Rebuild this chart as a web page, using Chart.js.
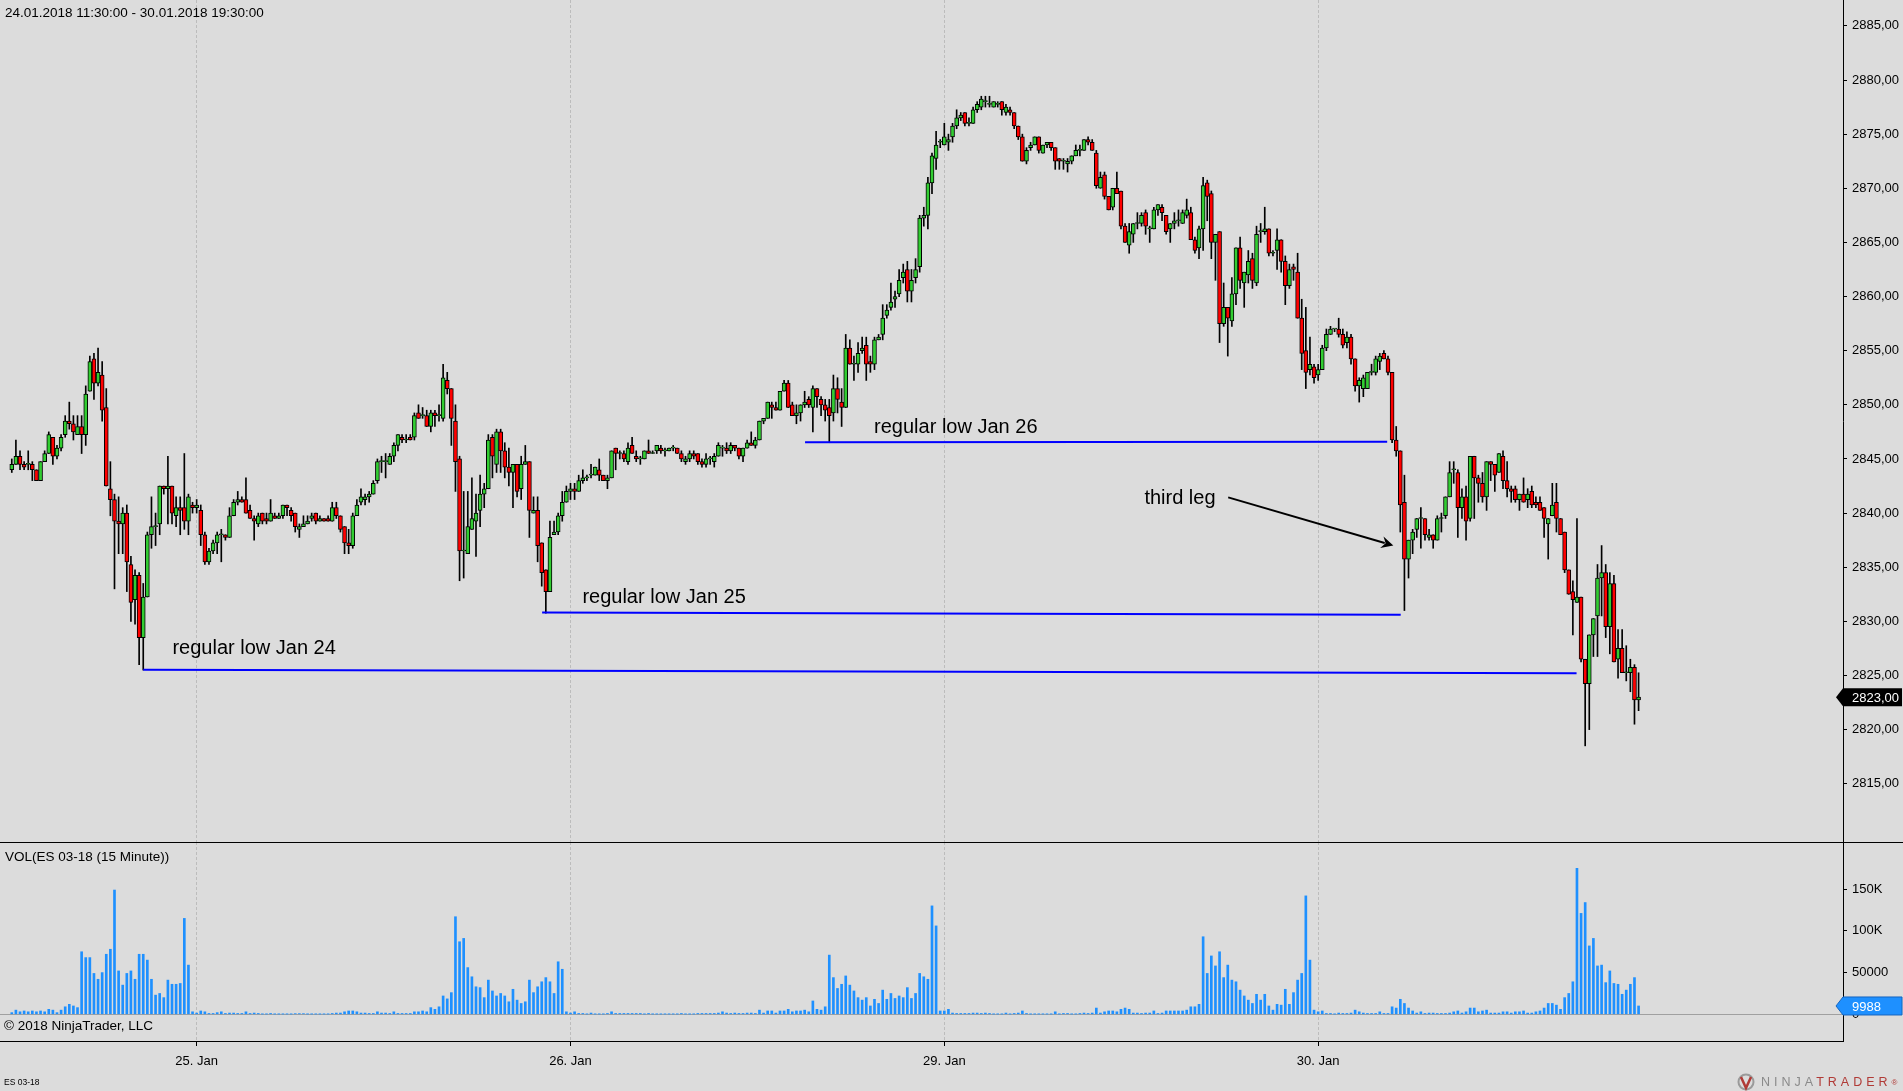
<!DOCTYPE html>
<html>
<head>
<meta charset="utf-8">
<script src="https://cdn.jsdelivr.net/npm/chart.js@4.4.1/dist/chart.umd.min.js"></script>
<style>
  body { margin: 0; width: 1903px; height: 1091px; overflow: hidden; position: relative;
         background: #dcdcdc; font-family: "Liberation Sans", Arial, sans-serif; color: #000; }
  canvas { position: absolute; left: 0; }
  #price { top: 0; }
  #vol { top: 842px; }
  .txt { position: absolute; font-size: 13.5px; line-height: 15px; white-space: nowrap; }
  #sep { position: absolute; left: 0; top: 842px; width: 1903px; height: 1px; background: #000; }
</style>
</head>
<body>
<canvas id="price" width="1903" height="842"></canvas>
<canvas id="vol" width="1903" height="249"></canvas>
<div id="sep"></div>
<div class="txt" style="left:5px; top:5px;">24.01.2018 11:30:00 - 30.01.2018 19:30:00</div>
<div class="txt" style="left:5px; top:849px;">VOL(ES 03-18 (15 Minute))</div>
<div class="txt" style="left:4px; top:1018px;">© 2018 NinjaTrader, LLC</div>
<div class="txt" style="left:4px; top:1077px; font-size:8.5px; line-height:10px;">ES 03-18</div>
<svg style="position:absolute; left:1736px; top:1073px;" width="20" height="18" viewBox="0 0 20 18">
  <circle cx="10" cy="9" r="7.5" fill="none" stroke="#9a9a9a" stroke-width="2"/>
  <path d="M5 4 L10 15 L15 4" fill="none" stroke="#b03a36" stroke-width="2.5"/>
</svg>
<div class="txt" style="left:1761px; top:1075px; font-size:12.5px; letter-spacing:4px;"><span style="color:#8a8a8a">NINJA</span><span style="color:#b03a36">TRADER</span><span style="color:#b03a36; font-size:8px; vertical-align:top;">®</span></div>

<script>
// 15-minute bars, 24.01.2018 11:30 .. 30.01.2018 19:30
const dayTicks = [45, 136, 227, 318];
const dayLabels = ['25. Jan', '26. Jan', '29. Jan', '30. Jan'];

const opens = [
  2844,2844.5,2845.25,2844.5,2844.5,2844.5,2844,2843,2844.75,2845.5,
  2847,2845.25,2846,2847.25,2848.5,2848.25,2847.25,2848,2847.25,2851.25,
  2854.25,2852,2852.75,2849.75,2842.25,2841.25,2839.25,2839,2840,2835.25,
  2832,2834.25,2828.5,2832.25,2838,2838.75,2839,2842.5,2842.25,2842.5,
  2839.75,2840.5,2840.5,2839.25,2840.75,2840.5,2840.25,2838,2835.5,2836.5,
  2837.25,2838,2838,2837.75,2839.75,2841,2841.25,2841.25,2840.25,2839.5,
  2839,2840,2839.5,2839.25,2839.75,2839.5,2839.75,2840.75,2840.25,2840,
  2838.5,2838.75,2839,2839.5,2840,2839.25,2839.5,2839.5,2839.25,2840.5,
  2839.75,2838.75,2837.25,2837,2839.75,2841,2841.25,2841.5,2841.75,2843,
  2844.75,2844.75,2844.5,2845.25,2846.25,2847,2846.75,2847,2847,2849.25,
  2849,2849,2848,2849.25,2849,2848.75,2852.25,2851.5,2848.5,2845,
  2836.5,2836.25,2838.5,2839.25,2840.25,2841.75,2842.25,2847,2844.5,2847.5,
  2845.75,2844.25,2843.75,2844.5,2842.25,2844.5,2844.75,2840,2840.25,2837.25,
  2834.75,2832.75,2838,2838.25,2839.75,2841,2842,2842.25,2842,2843,
  2843.25,2843.5,2843.5,2844,2843.5,2843,2843.25,2846,2845.5,2845.5,
  2844.75,2846.25,2845.25,2845,2845,2845.75,2845.5,2845.75,2846,2845.75,
  2845.75,2846,2846,2845.5,2844.75,2845,2845.5,2845.5,2844.75,2844.5,
  2845,2844.75,2845.25,2846,2846,2845.75,2846.25,2846,2845.25,2846,
  2846.5,2846.25,2846.75,2848.5,2848.75,2850,2849.75,2849.5,2851.25,2852,
  2850,2849,2849.25,2850,2850.5,2849.75,2851.5,2850.5,2850,2849.75,
  2849.25,2851.5,2850.25,2849.75,2855.25,2853.75,2853.75,2855,2855.5,2854,
  2853.75,2856,2856.5,2858.25,2859,2859.75,2860.25,2861.75,2862.5,2860.5,
  2861.75,2862.75,2867.25,2867.5,2870.5,2872.75,2874.25,2874,2874.25,2874.75,
  2875.75,2876.5,2877,2876,2876,2877.25,2877.5,2878,2877.75,2877.5,
  2877.75,2878,2877,2877.25,2877,2875.75,2874.75,2872.5,2873.75,2874,
  2874.75,2873.25,2874,2874.25,2873.75,2872.75,2872.5,2872.25,2872.5,2873,
  2873.5,2873.5,2874.5,2874.25,2873.25,2870,2871.25,2869.25,2868.25,2870,
  2869.75,2866.5,2864.75,2865.75,2866.75,2866.75,2867.75,2866.25,2866.25,2868,
  2868.25,2867.5,2866.25,2866.75,2867,2866.75,2867.5,2867.75,2865.25,2864.5,
  2866.25,2870.5,2869.5,2865,2866,2857.5,2859,2857.75,2860.25,2864.5,
  2861.25,2862,2863.5,2861.25,2866,2866,2866.25,2864,2864.25,2865.25,
  2863.25,2861,2862.75,2862.25,2858,2855,2853.25,2853.5,2852.75,2853.25,
  2855.25,2856.5,2857,2857,2856.5,2855.75,2856.25,2854.25,2851.75,2851.5,
  2851.5,2853,2853,2854,2854.75,2854.25,2853,2846.75,2845.75,2841,
  2835.75,2837.5,2838.5,2839.5,2839.5,2837.75,2838,2837.5,2839.5,2839.75,
  2841.5,2844,2843.75,2840.5,2841.5,2839.5,2845.25,2843.25,2842.75,2841.5,
  2844.75,2844.5,2843.75,2845.25,2843,2842.25,2842.25,2841.25,2841.75,2841.25,
  2842,2841,2841,2840.5,2839,2839.75,2841,2839.5,2838.25,2834.75,
  2832.75,2831.75,2832.25,2826.5,2824.25,2828.75,2830.5,2834,2834.5,2829.5,
  2833.5,2826.5,2827.5,2825.25,2825.25,2825.75,2822.75
];
const highs = [
  2845,2846.75,2845.75,2844.75,2845.75,2844.75,2844,2844.75,2845.75,2847.5,
  2847,2846.25,2847.25,2849,2850.25,2849,2849,2849,2851.75,2854.5,
  2854.75,2855.25,2854,2851.5,2844.75,2841.75,2841.5,2840.5,2840.75,2836,
  2834.75,2834.5,2833.5,2838.25,2841.5,2840,2842.5,2842.5,2845.25,2842.5,
  2841.5,2841.5,2845.5,2841.75,2841,2841.25,2840.75,2838.25,2836.75,2837.5,
  2838.25,2838.5,2838,2840.5,2841.25,2842,2841.5,2843.25,2840.75,2839.75,
  2840,2840,2840,2841.25,2840,2840,2840.75,2840.75,2840.5,2840,
  2839,2839.75,2839.75,2840,2840,2839.75,2839.5,2839.75,2841,2841,
  2839.75,2838.75,2838.5,2840,2841.25,2842.25,2841.75,2842,2843,2845,
  2845.25,2845.5,2845.5,2846.5,2847.25,2847.25,2847.25,2847.25,2849.25,2850,
  2849.75,2849.5,2849.5,2849.5,2850,2853.75,2853,2851.5,2850,2845.25,
  2842,2842,2843.25,2841.75,2843.5,2842.75,2847.25,2847.25,2847.75,2847.75,
  2846.5,2846,2844.5,2844.5,2845.25,2846.25,2844.75,2841.5,2841.5,2837.25,
  2834.75,2839.25,2839.25,2840,2842,2842.5,2842.75,2842.75,2843.5,2844,
  2843.5,2844.5,2844.25,2845,2843.5,2843.5,2845.75,2846,2845.75,2845.75,
  2846.5,2847,2845.75,2845.25,2845.75,2846.75,2845.75,2846.25,2846.25,2846,
  2846,2846.25,2846,2845.75,2845.25,2845.75,2845.75,2845.5,2845,2845.5,
  2845.25,2845.5,2846.5,2846.25,2846.5,2846.5,2846.25,2846,2846,2846.75,
  2847.5,2847,2848.5,2848.75,2850.25,2850.25,2850.25,2851.25,2852.25,2852.25,
  2850.25,2850,2850,2851.25,2850.75,2851.75,2851.5,2850.75,2850.5,2850.5,
  2852.75,2852.5,2851.5,2856.5,2856,2854.5,2855.75,2856.25,2856.25,2854.5,
  2856.25,2856.5,2859.25,2859.25,2861.25,2860.5,2862.5,2863,2863.25,2862.5,
  2863.5,2867.5,2868.25,2871,2873.25,2875.25,2874.5,2876,2875,2876,
  2877.25,2877,2877,2876.5,2877.5,2878,2878.5,2878.5,2878.5,2878,
  2878,2878,2877.75,2877.5,2877,2875.75,2875,2873.75,2874.25,2874.75,
  2874.75,2874,2874.25,2874.25,2873.75,2872.75,2872.75,2872.75,2873,2874,
  2874,2874.5,2874.75,2874.5,2873.5,2871.5,2871.5,2869.25,2870,2871.5,
  2869.75,2866.75,2866.75,2866.75,2867.75,2867.75,2868,2866.5,2868.25,2868.5,
  2868.5,2867.5,2866.75,2867.75,2868,2868,2869,2868.25,2865.5,2866.5,
  2871,2870.75,2869.75,2865.75,2866,2861.25,2859,2861.75,2864.5,2865.5,
  2862.25,2864.25,2864,2866.5,2866.75,2868.25,2866.25,2864.25,2866.25,2865.25,
  2863.75,2863,2863,2864,2859.75,2859,2856.25,2853.75,2853.75,2855.5,
  2857,2857.25,2857,2858,2857,2856.75,2856.5,2854.25,2852.5,2852.75,
  2853,2853.75,2854.5,2854.75,2855,2854.5,2853,2848,2845.75,2843.5,
  2837.5,2838.5,2839.5,2840.5,2839.5,2838.5,2838,2839.75,2840,2841.5,
  2844.75,2844.75,2844,2842.25,2842.5,2845.25,2845.25,2843.5,2843.75,2844.75,
  2844.75,2844.5,2845.5,2845.75,2844.75,2842.5,2842.5,2841.75,2843.25,2842.25,
  2842.5,2841.5,2841.5,2840.5,2839.5,2842.75,2842.75,2839.5,2838.25,2834.75,
  2833.75,2839.5,2832.25,2826.5,2828.75,2830.25,2835.25,2837,2835.25,2834.5,
  2834.25,2829.25,2829.25,2827.75,2826.5,2826,2825.25
];
const lows = [
  2843.75,2844.5,2844,2844,2844,2843,2843,2843,2844.75,2845.5,
  2844.5,2845,2845.75,2847,2847.75,2846.75,2847.25,2845.5,2846.25,2851.25,
  2850.5,2851.75,2848.5,2842.5,2839.75,2833,2836.25,2836.25,2832.75,2830,
  2829.75,2826,2825.5,2832.25,2836.75,2837,2838,2841.75,2839,2839,
  2838.75,2838,2838.5,2838,2840,2840,2837,2835.25,2835.25,2836.25,
  2836.25,2835.5,2837.5,2837.75,2839.75,2840.75,2841,2840,2839.5,2837.5,
  2838.75,2839,2839,2839.25,2839.5,2839.5,2839.5,2839.75,2839.25,2838.25,
  2837.75,2838.75,2839,2839.25,2839,2839.25,2839.25,2839.25,2839.25,2839.5,
  2838.25,2836.25,2836.25,2836.75,2839.75,2840.75,2840.75,2841,2841.75,2842.75,
  2843.75,2843.25,2844.5,2844.75,2845.75,2846.5,2846.5,2846.75,2846.75,2848.75,
  2848.75,2848,2847.5,2848,2848.5,2848.5,2851,2846.25,2842,2833.75,
  2834,2836.25,2838.5,2836,2838.75,2840.5,2842.25,2843.25,2843.75,2843.75,
  2843.25,2842.5,2840.5,2841.5,2841.25,2844.5,2837.75,2840,2835.5,2833.25,
  2830.75,2832.75,2838,2838,2839.25,2841,2841.25,2841.25,2842,2842.75,
  2843,2843.25,2843.5,2843,2843,2842.25,2843.25,2844,2845,2844.75,
  2844.5,2845.5,2844.75,2844.5,2845,2845.5,2845.5,2845.5,2845.5,2845.25,
  2845.75,2845.75,2845.5,2844.75,2844.5,2844.75,2845,2844.5,2844.25,2844.25,
  2844.5,2844.25,2845.25,2845.25,2845.5,2845.5,2845.75,2845,2844.75,2846,
  2846.25,2846,2846.75,2848.25,2848.75,2848.75,2849.5,2849.5,2851.25,2849.75,
  2849,2848.25,2848.5,2849.75,2849.75,2847.5,2849.75,2849,2848.5,2846.5,
  2848.5,2849.25,2848,2849.75,2853.75,2852.25,2853,2854.75,2852.25,2853,
  2853.25,2856,2856,2858,2858.75,2859,2860,2861.25,2859.5,2859.5,
  2861.25,2862.25,2866.5,2866.25,2869.5,2871.75,2873.75,2874,2873.5,2874.25,
  2875.5,2876.25,2875.75,2875.75,2876,2877,2877.25,2877.5,2877.5,2877.5,
  2877.5,2876.75,2876.75,2876.75,2875.5,2874.5,2872.5,2872.25,2873.5,2874,
  2873.25,2873.25,2873.75,2873.5,2871.75,2871.75,2871.75,2871.5,2872.25,2873,
  2873,2873.5,2874,2873.5,2870,2870,2869,2868,2868,2869.5,
  2866.25,2865,2864,2865,2866.25,2866.5,2865.75,2865,2866.25,2867.5,
  2867,2865.75,2865,2866.25,2866.5,2866.75,2867.25,2865.25,2864,2863.5,
  2864.25,2867,2863.5,2861.5,2855.75,2857.25,2854.5,2857.25,2859.25,2860.75,
  2859,2861.25,2860.75,2861,2865,2865.75,2863.75,2863.75,2862.5,2862.25,
  2859.25,2860.75,2861.5,2858,2853.25,2851.5,2852.75,2852,2852.25,2853.25,
  2855,2856.5,2856.75,2856.25,2855.25,2855.25,2853.75,2851.25,2850.25,2850.75,
  2851.5,2852.75,2852.75,2853.25,2854.25,2852.75,2846.5,2845.25,2838.25,2831,
  2834,2836.25,2837.75,2836.75,2837.5,2837.5,2836.75,2837.5,2838.25,2839.5,
  2841.5,2842.75,2837.75,2839.5,2837.5,2839.25,2839.5,2841,2841,2840.25,
  2843,2842,2843.75,2842.25,2841.5,2841,2841,2840.25,2841,2840.5,
  2840.5,2840.5,2840.25,2837.75,2835.75,2839.75,2838.25,2838,2834.5,2832.5,
  2828.75,2831.75,2826.25,2818.5,2820,2826.75,2826.75,2830.5,2828.5,2827,
  2826.25,2824.75,2825.25,2824.5,2823.5,2820.5,2821.75
];
const closes = [
  2844.5,2845.25,2844.5,2844.25,2844.5,2844,2843,2844.75,2845.5,2847.25,
  2845.25,2846,2847,2848.5,2848.25,2847.5,2848,2847.25,2851,2854,
  2852,2853,2849.5,2842.5,2841.25,2839.25,2839,2840,2835.5,2831.75,
  2834.25,2828.5,2832.25,2838,2838.75,2838.75,2842.5,2842.25,2842.5,2840,
  2840.5,2840.25,2839.25,2841.5,2840.5,2840.75,2838,2835.5,2836.5,2837.25,
  2838,2838,2837.75,2839.75,2841,2841.25,2841,2840,2839.5,2839.25,
  2839.75,2839.25,2839.25,2840,2839.5,2839.75,2840.75,2840.5,2839.75,2838.75,
  2838.75,2839,2839.25,2839.75,2839.25,2839.5,2839.25,2839.25,2840.5,2839.75,
  2838.5,2837.25,2837,2839.75,2840.75,2841.5,2841.5,2841.75,2842.75,2844.75,
  2844.75,2844.75,2845.25,2846.25,2847.25,2846.75,2846.75,2846.75,2849,2848.75,
  2849,2848,2849.25,2849,2849,2852.5,2851.5,2848.75,2844.75,2836.5,
  2836.5,2838.75,2839.5,2840,2841.75,2842.25,2846.75,2845.25,2847.5,2845.75,
  2844.25,2843.75,2844.5,2842,2844.5,2844.75,2840.25,2840.25,2837,2834.5,
  2832.75,2837.75,2838.25,2839.75,2841,2842,2842.25,2842,2843,2843.25,
  2843.25,2843.5,2844.25,2843.5,2843,2843.25,2845.75,2845.5,2845.5,2845,
  2846,2845.5,2845,2845,2845.75,2845.5,2845.5,2846.25,2845.75,2845.75,
  2846,2846,2845.5,2845,2845,2845.5,2845.25,2844.75,2844.5,2845,
  2845,2845.25,2846.25,2846,2845.75,2846.25,2846,2845.25,2846,2846.5,
  2846.25,2846.75,2848.5,2848.75,2850.25,2849.75,2849.5,2851.25,2852,2849.75,
  2849,2849.25,2850,2850.25,2850,2851.5,2850.75,2850,2849.5,2849,
  2851.5,2850.5,2849.75,2855.25,2853.75,2853.75,2854.75,2855.25,2853.75,2853.75,
  2856,2856.25,2858,2858.75,2859.5,2860,2861.5,2862.25,2860.5,2861.5,
  2862.5,2867.25,2867.5,2870.5,2873,2874,2874.25,2874.75,2874.5,2875.75,
  2876.5,2876.75,2876,2876,2877.25,2877.75,2878.25,2878,2877.75,2878,
  2877.75,2877.25,2877.5,2877,2875.75,2874.75,2872.5,2873.5,2874,2874.75,
  2873.5,2874,2874.25,2873.75,2872.5,2872.5,2872.5,2872.5,2873,2873.5,
  2873.5,2874.5,2874.25,2873.5,2870.25,2871,2869.25,2868,2870,2869.5,
  2866.5,2865,2866,2866.75,2866.75,2867.5,2866.5,2866.25,2868,2868.5,
  2867.75,2866,2866.75,2867,2867,2867.75,2868,2865.25,2864.25,2866.25,
  2870.25,2869.25,2865,2865.75,2857.5,2859,2858,2860.25,2864.5,2861.5,
  2862.25,2863.25,2861.5,2865.75,2866,2866.25,2864,2864,2865.25,2863.25,
  2861,2862.5,2862.5,2858,2854.75,2853,2853.75,2852.5,2853.25,2855.25,
  2856.5,2857,2857,2856.5,2855.5,2856.25,2854.25,2851.75,2852.25,2852.5,
  2853,2853,2854.25,2854.5,2854.25,2853,2846.75,2845.75,2840.75,2835.75,
  2837.5,2838.25,2839.5,2839.5,2838,2838,2837.5,2839.5,2839.5,2841.5,
  2843.75,2844,2840.5,2841.5,2839.25,2845.25,2843.25,2842.75,2841.5,2844.75,
  2844.5,2843.5,2845.5,2843,2842.25,2842,2841.25,2841.75,2841,2841.75,
  2840.75,2840.75,2840.25,2839.5,2839.5,2840.75,2839.5,2838,2834.75,2832.5,
  2832,2832.25,2826.5,2824.25,2828.75,2830.25,2834,2834.5,2829.5,2833.5,
  2826.25,2827.5,2825.25,2825.25,2825.75,2822.75,2823
];
const volumes = [
  2000,5000,3000,4000,3000,4000,3000,4000,3000,6000,
  5000,2000,5000,9000,12000,10000,8000,75000,68000,68000,
  49000,42000,50000,72000,78000,149000,52000,35000,49000,52000,
  42000,72000,72000,65000,42000,23000,25000,20000,41000,36000,
  36000,37000,115000,59000,3000,1500,4000,3000,1000,1000,
  2000,3000,1000,1500,1500,1000,1000,3000,1000,1500,
  1000,300,300,1000,300,300,300,300,300,800,
  800,800,300,300,300,300,300,300,1000,1500,
  1500,3000,4000,4000,3000,1500,1500,1000,1000,3000,
  1500,1500,1000,3000,1000,1000,1000,1000,3000,3000,
  4000,3000,8000,6000,9000,22000,18500,26000,117000,87000,
  91000,56000,45000,33000,32000,20000,41000,28000,22000,25000,
  22000,15000,30000,17000,13000,15000,41000,26000,33000,39000,
  44000,39000,25000,63000,54000,3000,1500,3000,1000,1000,
  300,1500,300,300,300,1000,3000,1000,1000,1000,
  1000,1000,1000,1000,300,1000,300,300,300,300,
  300,300,300,1000,300,300,300,1000,1000,1000,
  1000,1000,1500,3000,1500,1000,1500,1000,1000,1500,
  1500,1000,5000,1500,4000,4000,1500,4000,4000,6000,
  3000,4000,4000,5000,3000,16000,6000,5000,9000,71000,
  44000,31000,36000,46000,35000,28000,20000,17000,20000,10000,
  18000,13000,29000,18000,25000,19000,22000,20000,32000,19000,
  25000,49000,45000,42000,130000,106000,4000,4000,6000,1500,
  1000,1000,1000,1000,1500,1500,1000,1500,1000,300,
  300,300,1500,300,1000,1500,4000,1000,300,300,
  300,300,300,300,3000,300,1000,1000,300,300,
  1000,1500,1000,1500,7500,1500,3000,4000,4000,3000,
  6000,7500,6000,1500,1500,1000,1500,1500,4000,1000,
  1500,4000,4000,4000,4000,4000,5000,9000,9000,12000,
  93000,49000,70000,58000,75000,44000,59000,41000,39000,29000,
  22000,17000,13000,24000,17000,24000,10000,5000,12000,11000,
  30000,12000,26000,41000,49000,142000,65000,5000,3000,4000,
  1000,1000,300,1500,1000,1000,1500,5000,3000,1500,
  1000,1000,1000,3000,1000,1000,9000,7500,18000,13000,
  7500,4000,1500,3000,1000,1500,1500,1000,1000,1000,
  1500,3000,4000,1500,3000,7500,7500,3000,4000,5000,
  1500,1500,1500,3000,3000,1500,3000,3000,4000,1500,
  1500,3000,4000,7500,13000,13000,11000,6000,20000,25000,
  39000,175000,121000,134000,82000,91000,58000,59000,38000,52000,
  37000,36000,24000,29000,36000,44000,9988
];

const priceTicks = [2815, 2820, 2825, 2830, 2835, 2840, 2845, 2850, 2855, 2860, 2865, 2870, 2875, 2880, 2885];
const volTicks = [0, 50000, 100000, 150000];

// drawn support lines (bar index, price)
const lowLines = [
  { x1: 32.0,  y1: 2825.52, x2: 380.9, y2: 2825.21 },
  { x1: 129.1, y1: 2830.82, x2: 338.1, y2: 2830.6 },
  { x1: 193.1, y1: 2846.55, x2: 334.8, y2: 2846.6 }
];
const notes = [
  { text: 'regular low Jan 24', x: 39.1,  y: 2826.96 },
  { text: 'regular low Jan 25', x: 138.9, y: 2831.74 },
  { text: 'regular low Jan 26', x: 209.9, y: 2847.43 },
  { text: 'third leg',          x: 275.7, y: 2840.85 }
];
const arrow = { x1: 296.1, y1: 2841.45, x2: 336.3, y2: 2837.0 };

const xMin = -2.87, xMax = 445.76;

Chart.defaults.font.family = '"Liberation Sans", Arial, sans-serif';
Chart.defaults.font.size = 13;
Chart.defaults.color = '#000';

const fmtPrice = v => v.toFixed(2).replace('.', ',');

const wickData = opens.map((o, i) => ({ x: i, y: [Math.min(lows[i], o, closes[i]), Math.max(highs[i], o, closes[i])] }));
const bodyData = opens.map((o, i) => ({ x: i, y: [o, closes[i]] }));
const bodyColors = opens.map((o, i) => closes[i] >= o ? '#32cd32' : '#ff0000');

function marker(ctx, chart, y, text, fill, stroke) {
  const x0 = chart.chartArea.right;
  const w = chart.width - 1;
  ctx.beginPath();
  ctx.moveTo(x0 - 7, y);
  ctx.lineTo(x0, y - 9);
  ctx.lineTo(w, y - 9);
  ctx.lineTo(w, y + 9);
  ctx.lineTo(x0, y + 9);
  ctx.closePath();
  ctx.fillStyle = fill;
  ctx.fill();
  if (stroke) { ctx.strokeStyle = stroke; ctx.lineWidth = 1; ctx.stroke(); }
  ctx.fillStyle = '#fff';
  ctx.font = '13px "Liberation Sans", Arial, sans-serif';
  ctx.textBaseline = 'middle';
  ctx.textAlign = 'left';
  ctx.fillText(text, x0 + 9, y + 1);
}

const notesPlugin = {
  id: 'notes',
  afterDatasetsDraw(chart) {
    const { ctx, scales: { x, y } } = chart;
    ctx.save();
    ctx.fillStyle = '#000';
    ctx.font = '20px "Liberation Sans", Arial, sans-serif';
    ctx.textBaseline = 'alphabetic';
    notes.forEach(n => ctx.fillText(n.text, x.getPixelForValue(n.x), y.getPixelForValue(n.y)));

    const ax1 = x.getPixelForValue(arrow.x1), ay1 = y.getPixelForValue(arrow.y1);
    const ax2 = x.getPixelForValue(arrow.x2), ay2 = y.getPixelForValue(arrow.y2);
    const ang = Math.atan2(ay2 - ay1, ax2 - ax1);
    const bx = ax2 - 12 * Math.cos(ang), by = ay2 - 12 * Math.sin(ang);
    ctx.strokeStyle = '#000';
    ctx.lineWidth = 2;
    ctx.beginPath();
    ctx.moveTo(ax1, ay1);
    ctx.lineTo(bx + 3 * Math.cos(ang), by + 3 * Math.sin(ang));
    ctx.stroke();
    ctx.beginPath();
    ctx.moveTo(ax2, ay2);
    ctx.lineTo(bx + 6 * Math.sin(ang), by - 6 * Math.cos(ang));
    ctx.lineTo(bx + 4 * Math.cos(ang), by + 4 * Math.sin(ang));
    ctx.lineTo(bx - 6 * Math.sin(ang), by + 6 * Math.cos(ang));
    ctx.closePath();
    ctx.fill();
    ctx.restore();
  },
  afterDraw(chart) {
    const last = closes[closes.length - 1];
    chart.ctx.save();
    marker(chart.ctx, chart, chart.scales.y.getPixelForValue(last), fmtPrice(last), '#000');
    chart.ctx.restore();
  }
};

const volMarkerPlugin = {
  id: 'volMarker',
  afterDraw(chart) {
    const last = volumes[volumes.length - 1];
    chart.ctx.save();
    marker(chart.ctx, chart, chart.scales.y.getPixelForValue(last), String(last), '#1e90ff', '#1565c0');
    chart.ctx.restore();
  }
};

const commonX = {
  type: 'linear', min: xMin, max: xMax, offset: false,
  afterBuildTicks: s => { s.ticks = dayTicks.map(v => ({ value: v })); }
};

new Chart(document.getElementById('price'), {
  type: 'bar',
  data: {
    datasets: [
      { type: 'bar', data: wickData, backgroundColor: '#000', barThickness: 1, grouped: false, order: 3 },
      { type: 'bar', data: bodyData, backgroundColor: bodyColors, borderColor: '#000', borderWidth: 1,
        borderSkipped: false, barThickness: 4, minBarLength: 1, grouped: false, order: 2 },
      ...lowLines.map(l => ({
        type: 'line', data: [{ x: l.x1, y: l.y1 }, { x: l.x2, y: l.y2 }],
        borderColor: '#0000ff', borderWidth: 2, pointRadius: 0, order: 1
      }))
    ]
  },
  options: {
    responsive: false, animation: false, devicePixelRatio: 1,
    layout: { padding: 0 },
    plugins: { legend: { display: false }, tooltip: { enabled: false } },
    scales: {
      x: {
        ...commonX,
        grid: { offset: false, color: '#bcbcbc', drawTicks: false },
        border: { display: false, dash: [3, 2] },
        ticks: { display: false },
        afterFit: s => { s.height = 0; s.paddingLeft = 0; s.paddingRight = 0; }
      },
      y: {
        position: 'right', min: 2809.62, max: 2887.39,
        grid: { drawOnChartArea: false, tickLength: 4, color: '#000', tickColor: '#000' },
        border: { color: '#000' },
        ticks: { padding: 5, crossAlign: 'near', callback: v => fmtPrice(v) },
        afterBuildTicks: s => { s.ticks = priceTicks.map(v => ({ value: v })); },
        afterFit: s => { s.width = 60; s.paddingTop = 0; s.paddingBottom = 0; }
      }
    }
  },
  plugins: [notesPlugin]
});

new Chart(document.getElementById('vol'), {
  type: 'bar',
  data: {
    datasets: [{
      data: volumes.map((v, i) => ({ x: i, y: v })),
      backgroundColor: '#1e90ff', barThickness: 2, grouped: false
    }]
  },
  options: {
    responsive: false, animation: false, devicePixelRatio: 1,
    layout: { padding: 0 },
    plugins: { legend: { display: false }, tooltip: { enabled: false } },
    scales: {
      x: {
        ...commonX,
        grid: { offset: false, color: '#bcbcbc', tickLength: 5, tickColor: '#000', tickBorderDash: [] },
        border: { display: true, color: '#000', dash: [3, 2] },
        ticks: { padding: 8, maxRotation: 0, autoSkip: false,
                 callback: v => { const k = dayTicks.indexOf(v); return k >= 0 ? dayLabels[k] : ''; } },
        afterFit: s => { s.height = 50; s.paddingLeft = 0; s.paddingRight = 0; }
      },
      y: {
        position: 'right', min: -32000, max: 206600,
        grid: { color: c => (c.tick && c.tick.value === 0) ? '#a0a0a0' : 'rgba(0,0,0,0)',
                tickLength: 4, tickColor: '#000' },
        border: { color: '#000' },
        ticks: { padding: 5, crossAlign: 'near',
                 callback: v => v >= 100000 ? (v / 1000) + 'K' : String(v) },
        afterBuildTicks: s => { s.ticks = volTicks.map(v => ({ value: v })); },
        afterFit: s => { s.width = 60; s.paddingTop = 0; s.paddingBottom = 0; }
      }
    }
  },
  plugins: [volMarkerPlugin]
});
</script>
</body>
</html>
